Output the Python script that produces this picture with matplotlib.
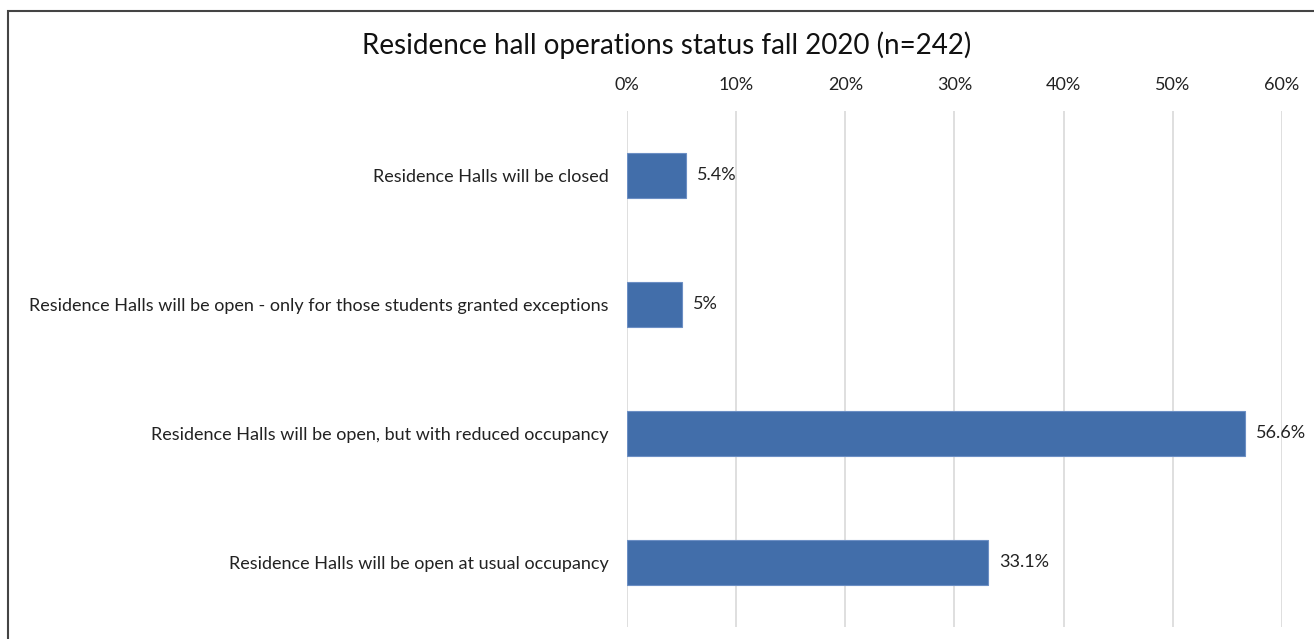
import matplotlib.pyplot as plt
from matplotlib.patches import Rectangle

plt.rcParams['font.family'] = ['Lato', 'DejaVu Sans']

categories = [
    "Residence Halls will be closed",
    "Residence Halls will be open - only for those students granted exceptions",
    "Residence Halls will be open, but with reduced occupancy",
    "Residence Halls will be open at usual occupancy",
]
values = [5.4, 5.0, 56.6, 33.1]
value_labels = ["5.4%", "5%", "56.6%", "33.1%"]
ticks = [0, 10, 20, 30, 40, 50, 60]

fig = plt.figure(figsize=(13.14, 6.39), dpi=100)
ax = fig.add_axes([0.4772, 0.0188, 0.4984, 0.8075])

y = list(range(len(categories)))
ax.barh(y, values, height=0.35, color="#426EAA", edgecolor="#6C8FC4", linewidth=0.8, zorder=3)
for yi, v, lab in zip(y, values, value_labels):
    ax.text(v + 1.0, yi, lab, va="center", ha="left", fontsize=13, color="#222222")

ax.set_ylim(len(categories) - 0.5, -0.5)
ax.set_xlim(0, 60)
ax.set_yticks(y)
ax.set_yticklabels(categories, fontsize=13, color="#222222")
ax.set_xticks(ticks)
ax.set_xticklabels([f"{t}%" for t in ticks], fontsize=13, color="#222222")
ax.xaxis.tick_top()
ax.tick_params(axis="both", length=0)
ax.tick_params(axis="y", pad=13)
ax.tick_params(axis="x", pad=13)
ax.grid(axis="x", color="#D9D9D9", linewidth=1.2, zorder=0)
for s in ax.spines.values():
    s.set_visible(False)

fig.text(0.507, 0.93, "Residence hall operations status fall 2020 (n=242)",
         ha="center", va="center", fontsize=20, color="#111111")

fig.patches.append(Rectangle((8 / 1314, -0.05), 1.1, 1 - 11 / 639 + 0.05,
                             transform=fig.transFigure, fill=False,
                             edgecolor="#444444", linewidth=1.5))

fig.savefig("out.png", dpi=100)
